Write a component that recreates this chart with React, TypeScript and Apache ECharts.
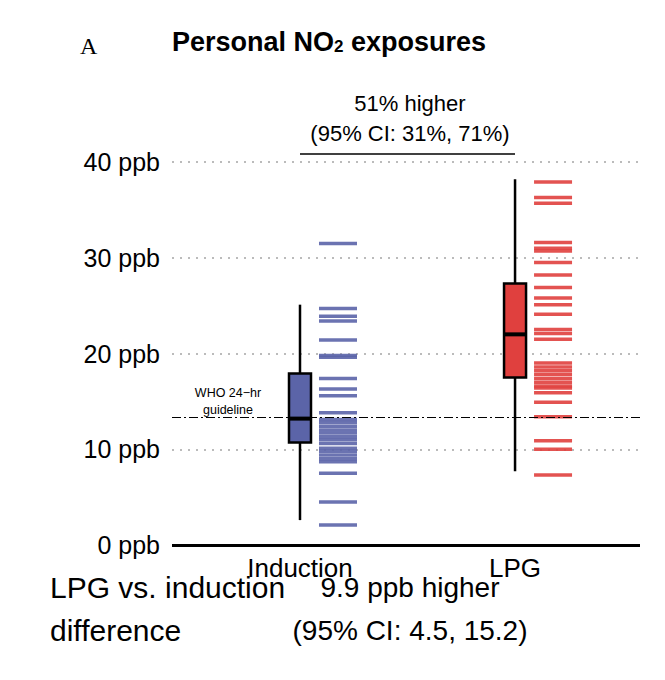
import React, { useEffect, useRef } from "react";
import * as echarts from "echarts";

const categories = ["Induction", "LPG"];
const catPos = [0.2735, 0.733];
const colors = ["#5b64a8", "#e0403e"];
// [whiskerLow, q1, median, q3, whiskerHigh]
const boxStats = [
  [2.6, 10.7, 13.2, 17.9, 25.1],
  [7.7, 17.5, 22.0, 27.3, 38.2],
];
const inductionRug = [31.5, 24.7, 23.9, 23.4, 21.4, 19.8, 19.6, 17.4, 16.3, 15.6, 13.8, 13.1, 12.8, 12.4, 12.0, 11.7, 11.3, 11.0, 10.6, 10.1, 9.8, 9.4, 9.0, 8.7, 7.5, 4.5, 2.1];
const lpgRug = [37.9, 36.3, 35.7, 31.6, 31.0, 30.7, 29.5, 28.2, 26.9, 25.8, 25.1, 24.1, 22.5, 22.1, 21.5, 19.0, 18.6, 18.2, 17.8, 17.4, 17.0, 16.6, 16.4, 15.9, 14.9, 13.4, 10.9, 10.0, 7.3];
const yTicks = [0, 10, 20, 30, 40];
const whoGuideline = 13.3;

const FONT = "Liberation Sans, Arial, sans-serif";

export default function App() {
  const ref = useRef<HTMLDivElement>(null);
  useEffect(() => {
    const chart = echarts.init(ref.current!, null, { renderer: "svg" });
    const boxData = boxStats.map((s, i) => [catPos[i], ...s, i]);
    const rugData: number[][] = [];
    inductionRug.forEach((v) => rugData.push([catPos[0], v, 0]));
    lpgRug.forEach((v) => rugData.push([catPos[1], v, 1]));
    chart.setOption({
      animation: false,
      grid: { left: 172, right: 25, top: 162, bottom: 135 },
      xAxis: { type: "value", min: 0, max: 1, show: false },
      yAxis: {
        type: "value",
        min: 0,
        max: 40,
        interval: 10,
        axisLine: { show: false },
        axisTick: { show: false },
        axisLabel: {
          formatter: (v: number) => (yTicks.includes(v) ? v + " ppb" : ""),
          fontSize: 25,
          color: "#000",
          fontFamily: FONT,
          margin: 12,
        },
        splitLine: { lineStyle: { color: "#bbb", type: [2, 6], width: 2 } },
      },
      series: [
        {
          type: "custom",
          data: rugData,
          renderItem: (params: any, api: any) => {
            const p = api.coord([api.value(0), api.value(1)]);
            const c = api.value(2);
            return {
              type: "rect",
              shape: { x: p[0] + 19, y: p[1] - 1.75, width: 38, height: 3.5 },
              style: { fill: colors[c], opacity: 0.9 },
            };
          },
          z: 3,
        },
        {
          type: "custom",
          data: boxData,
          renderItem: (params: any, api: any) => {
            const x = api.value(0);
            const lo = api.coord([x, api.value(1)]);
            const q1 = api.coord([x, api.value(2)]);
            const med = api.coord([x, api.value(3)]);
            const q3 = api.coord([x, api.value(4)]);
            const hi = api.coord([x, api.value(5)]);
            const c = api.value(6);
            const w = 22;
            return {
              type: "group",
              children: [
                { type: "line", shape: { x1: lo[0], y1: lo[1], x2: hi[0], y2: hi[1] }, style: { stroke: "#000", lineWidth: 2.5 } },
                { type: "rect", shape: { x: q1[0] - w / 2, y: q3[1], width: w, height: q1[1] - q3[1] }, style: { fill: colors[c], stroke: "#000", lineWidth: 2.5 } },
                { type: "line", shape: { x1: med[0] - w / 2, y1: med[1], x2: med[0] + w / 2, y2: med[1] }, style: { stroke: "#000", lineWidth: 4 } },
              ],
            };
          },
          z: 4,
        },
        {
          type: "line",
          data: [],
          markLine: {
            symbol: "none",
            silent: true,
            label: { show: false },
            lineStyle: { color: "#000", type: [9, 3, 2, 3], width: 1 },
            data: [{ yAxis: whoGuideline }],
          },
          z: 5,
        },
        {
          type: "line",
          data: [],
          markLine: {
            symbol: "none",
            silent: true,
            label: { show: false },
            lineStyle: { color: "#000", type: "solid", width: 3 },
            data: [{ yAxis: 0 }],
          },
          z: 5,
        },
      ],
      graphic: [
        { type: "text", left: 80, top: 34, style: { text: "A", font: "24px 'Liberation Serif', serif", fill: "#000" } },
        {
          type: "text",
          left: 172,
          top: 28,
          style: {
            text: "{b|Personal NO}{s|2}{b| exposures}",
            rich: {
              b: { fontSize: 27, fontWeight: "bold", fontFamily: FONT, fill: "#000", verticalAlign: "bottom" },
              s: { fontSize: 17, fontWeight: "bold", fontFamily: FONT, fill: "#000", padding: [12, 0, 0, 0], verticalAlign: "bottom" },
            },
          },
        },
        { type: "text", x: 410, y: 103, style: { text: "51% higher", font: `22px ${FONT}`, fill: "#000", textAlign: "center", textVerticalAlign: "middle" } },
        { type: "text", x: 410, y: 133, style: { text: "(95% CI: 31%, 71%)", font: `22px ${FONT}`, fill: "#000", textAlign: "center", textVerticalAlign: "middle" } },
        { type: "line", shape: { x1: 300, y1: 154, x2: 515, y2: 154 }, style: { stroke: "#000", lineWidth: 1.5 } },
        { type: "text", x: 228, y: 393, style: { text: "WHO 24\u2212hr", font: `12.5px ${FONT}`, fill: "#000", textAlign: "center", textVerticalAlign: "middle" } },
        { type: "text", x: 228, y: 410, style: { text: "guideline", font: `12.5px ${FONT}`, fill: "#000", textAlign: "center", textVerticalAlign: "middle" } },
        { type: "text", x: 300, y: 568, style: { text: categories[0], font: `26px ${FONT}`, fill: "#000", textAlign: "center", textVerticalAlign: "middle" } },
        { type: "text", x: 515, y: 568, style: { text: categories[1], font: `26px ${FONT}`, fill: "#000", textAlign: "center", textVerticalAlign: "middle" } },
        { type: "text", x: 50, y: 587, style: { text: "LPG vs. induction", font: `30px ${FONT}`, fill: "#000", textVerticalAlign: "middle" } },
        { type: "text", x: 50, y: 630, style: { text: "difference", font: `30px ${FONT}`, fill: "#000", textVerticalAlign: "middle" } },
        { type: "text", x: 410, y: 587, style: { text: "9.9 ppb higher", font: `28px ${FONT}`, fill: "#000", textAlign: "center", textVerticalAlign: "middle" } },
        { type: "text", x: 410, y: 630, style: { text: "(95% CI: 4.5, 15.2)", font: `28px ${FONT}`, fill: "#000", textAlign: "center", textVerticalAlign: "middle" } },
      ],
    });
    return () => chart.dispose();
  }, []);
  return <div ref={ref} style={{ position: "absolute", left: 0, top: 0, width: 665, height: 680, background: "#fff" }} />;
}
